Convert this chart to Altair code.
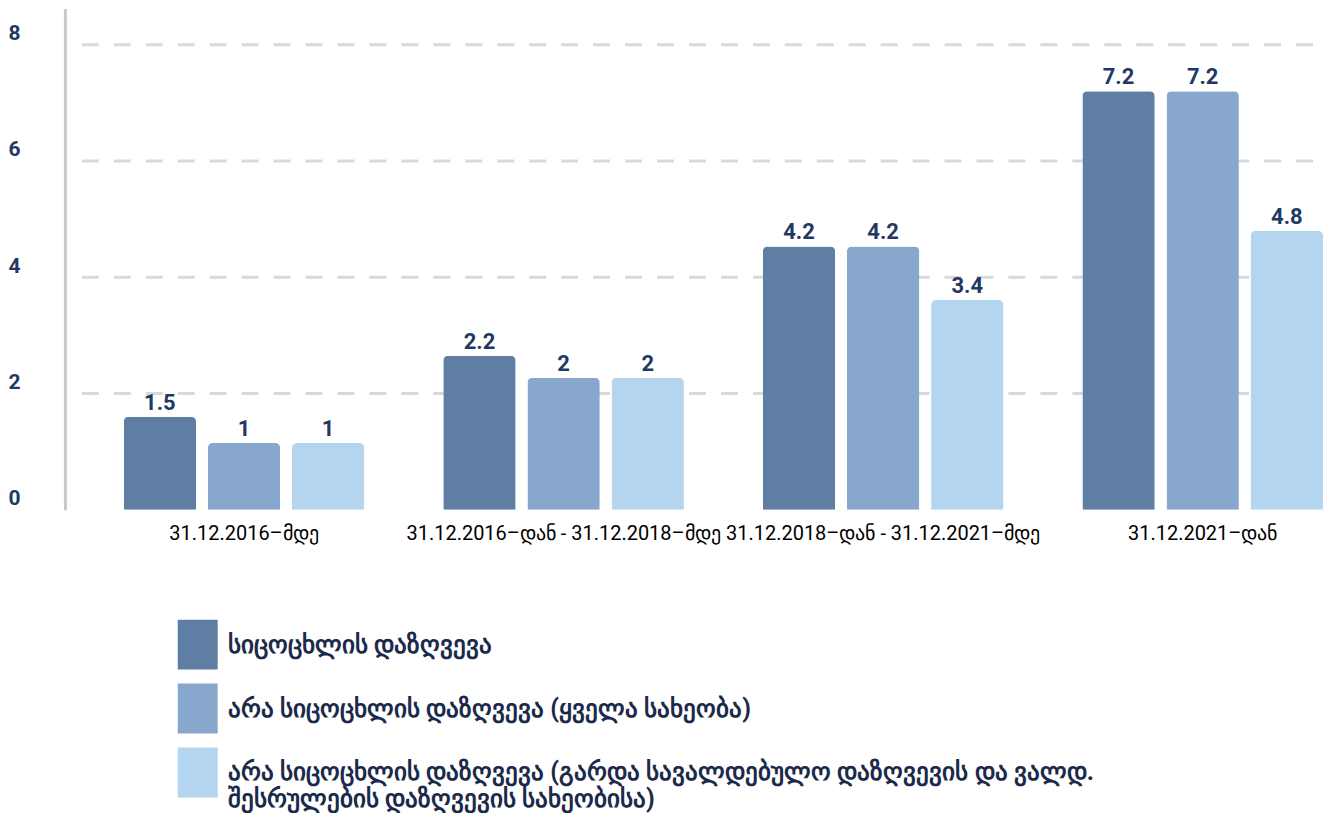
import altair as alt
import pandas as pd

categories = [
    "31.12.2016–მდე",
    "31.12.2016–დან - 31.12.2018–მდე",
    "31.12.2018–დან - 31.12.2021–მდე",
    "31.12.2021–დან",
]
series = [
    "სიცოცხლის დაზღვევა",
    "არა სიცოცხლის დაზღვევა (ყველა სახეობა)",
    "არა სიცოცხლის დაზღვევა (გარდა  სავალდებულო დაზღვევის და ვალდ.\nშესრულების დაზღვევის სახეობისა)",
]
# bar heights
life_h = [1.6, 2.65, 4.53, 7.2]
nonlife_all_h = [1.15, 2.27, 4.53, 7.2]
nonlife_excl_h = [1.15, 2.27, 3.61, 4.8]
# value labels printed above the bars
life_lbl = ["1.5", "2.2", "4.2", "7.2"]
nonlife_all_lbl = ["1", "2", "4.2", "7.2"]
nonlife_excl_lbl = ["1", "2", "3.4", "4.8"]

grid_values = [2, 4, 6, 8]
y_ticks = [0, 2, 4, 6, 8]
colors = ["#5E7EA3", "#87A8CC", "#B3D5F0"]

rows = []
for s, hs, ls in zip(series, [life_h, nonlife_all_h, nonlife_excl_h],
                     [life_lbl, nonlife_all_lbl, nonlife_excl_lbl]):
    for c, h, l in zip(categories, hs, ls):
        rows.append({"cat": c, "series": s, "h": h, "label": l})
df = pd.DataFrame(rows)
grid_df = pd.DataFrame({"v": grid_values})

W, H = 1260, 502
yscale = alt.Scale(domain=[0, 8.62], nice=False, zero=True)

x_enc = alt.X(
    "cat:N", sort=categories,
    scale=alt.Scale(paddingInner=0.247, paddingOuter=0.092, align=1),
    axis=alt.Axis(title=None, labelAngle=0, domain=False, ticks=False,
                  labelPadding=14, labelFontSize=20, labelFont="Roboto",
                  labelColor="#000000", labelLimit=600),
)
xoff_enc = alt.XOffset("series:N", sort=series,
                       scale=alt.Scale(paddingInner=0.14, paddingOuter=0))

grid = alt.Chart(grid_df).mark_rule(
    color="#D9D9D9", strokeWidth=3, strokeDash=[17, 15]
).encode(
    y=alt.Y("v:Q", scale=yscale),
    x=alt.value(17),
    x2=alt.value(W),
)

bars = alt.Chart(df).mark_bar(
    cornerRadiusTopLeft=5, cornerRadiusTopRight=5
).encode(
    x=x_enc,
    xOffset=xoff_enc,
    y=alt.Y("h:Q", scale=yscale,
            axis=alt.Axis(title=None, values=y_ticks, format="d", grid=False,
                          domain=True, domainColor="#C8C8C8", domainWidth=3,
                          ticks=False, labelPadding=57, labelAlign="left",
                          labelFontSize=21, labelFontWeight="bold",
                          labelFont="Roboto", labelColor="#1F3864",
                          labelOffset=-11)),
    color=alt.Color(
        "series:N", sort=series,
        scale=alt.Scale(domain=series, range=colors),
        legend=alt.Legend(
            title=None, orient="none", legendX=113, legendY=612,
            direction="vertical",
            symbolType="M-1,-1H0.6V1H-1Z", symbolSize=2500,
            symbolStrokeWidth=0, symbolOpacity=1,
            labelFontSize=25, labelFontWeight="bold", labelFont="Roboto",
            labelColor="#1B2A4A", labelOffset=0, labelLimit=1100,
            rowPadding=14, labelBaseline="middle",
            labelExpr="split(datum.label, '\\n')",
        ),
    ),
)

text = alt.Chart(df).mark_text(
    dy=-7, baseline="alphabetic", fontSize=22, fontWeight="bold",
    font="Roboto", color="#1F3864"
).encode(
    x=alt.X("cat:N", sort=categories),
    xOffset=alt.XOffset("series:N", sort=series),
    y=alt.Y("h:Q", scale=yscale),
    text="label:N",
)

chart = alt.layer(grid, bars, text).properties(
    width=W, height=H, padding=0
).configure_view(stroke=None)

chart.save("out.html", embed_options={"renderer": "svg", "actions": False})
